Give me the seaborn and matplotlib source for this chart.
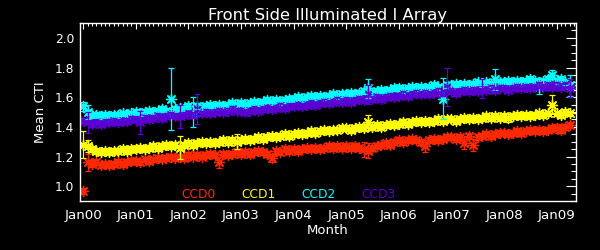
import matplotlib
matplotlib.use("Agg")
import matplotlib.pyplot as plt
import numpy as np
import pandas as pd
import seaborn as sns
from matplotlib.ticker import MultipleLocator

# ---------------- data (monthly, Jan 2000 = month 0) ----------------
months = list(range(112))

ccd0 = [0.97, 1.16, 1.15, 1.16, 1.14, 1.15, 1.14, 1.15, 1.16, 1.15, 1.16, 1.17,
        1.17, 1.16, 1.18, 1.17, 1.18, 1.19, 1.18, 1.19, 1.20, 1.19, 1.20, 1.19,
        1.21, 1.20, 1.21, 1.20, 1.21, 1.22, 1.21, 1.16, 1.22, 1.21, 1.22, 1.23,
        1.22, 1.23, 1.22, 1.23, 1.24, 1.23, 1.22, 1.19, 1.24, 1.23, 1.25, 1.24,
        1.25, 1.24, 1.25, 1.26, 1.25, 1.26, 1.25, 1.26, 1.27, 1.26, 1.27, 1.26,
        1.27, 1.26, 1.27, 1.26, 1.25, 1.24, 1.26, 1.27, 1.28, 1.29, 1.28, 1.30,
        1.31, 1.30, 1.31, 1.32, 1.31, 1.30, 1.27, 1.31, 1.32, 1.31, 1.32, 1.33,
        1.33, 1.32, 1.33, 1.29, 1.34, 1.28, 1.33, 1.34, 1.35, 1.34, 1.35, 1.36,
        1.36, 1.35, 1.36, 1.37, 1.36, 1.37, 1.38, 1.37, 1.38, 1.37, 1.38, 1.39,
        1.39, 1.38, 1.40, 1.41]

ccd1 = [1.28, 1.27, 1.25, 1.24, 1.23, 1.24, 1.23, 1.24, 1.24, 1.25, 1.24, 1.25,
        1.25, 1.26, 1.25, 1.26, 1.27, 1.26, 1.27, 1.28, 1.27, 1.28, 1.26, 1.28,
        1.29, 1.28, 1.29, 1.30, 1.29, 1.30, 1.29, 1.30, 1.31, 1.30, 1.31, 1.30,
        1.31, 1.32, 1.31, 1.32, 1.33, 1.32, 1.33, 1.34, 1.33, 1.34, 1.35, 1.34,
        1.35, 1.36, 1.35, 1.36, 1.37, 1.36, 1.37, 1.38, 1.37, 1.38, 1.38, 1.39,
        1.39, 1.38, 1.39, 1.40, 1.39, 1.43, 1.40, 1.41, 1.40, 1.41, 1.42, 1.41,
        1.42, 1.43, 1.42, 1.43, 1.44, 1.43, 1.44, 1.43, 1.44, 1.45, 1.44, 1.45,
        1.45, 1.44, 1.45, 1.46, 1.45, 1.46, 1.45, 1.46, 1.47, 1.46, 1.47, 1.46,
        1.47, 1.46, 1.47, 1.48, 1.47, 1.48, 1.47, 1.48, 1.49, 1.48, 1.49, 1.55,
        1.49, 1.48, 1.50, 1.49]

ccd2 = [1.54, 1.50, 1.48, 1.48, 1.47, 1.48, 1.47, 1.48, 1.48, 1.49, 1.48, 1.49,
        1.50, 1.49, 1.50, 1.51, 1.50, 1.51, 1.52, 1.51, 1.59, 1.52, 1.53, 1.52,
        1.54, 1.50, 1.54, 1.53, 1.54, 1.55, 1.54, 1.55, 1.54, 1.55, 1.56, 1.55,
        1.56, 1.55, 1.56, 1.57, 1.56, 1.57, 1.58, 1.57, 1.58, 1.57, 1.58, 1.59,
        1.59, 1.60, 1.59, 1.60, 1.61, 1.60, 1.61, 1.60, 1.61, 1.62, 1.61, 1.62,
        1.62, 1.63, 1.62, 1.63, 1.64, 1.66, 1.63, 1.64, 1.65, 1.64, 1.65, 1.66,
        1.66, 1.65, 1.66, 1.67, 1.66, 1.67, 1.66, 1.67, 1.68, 1.67, 1.59, 1.68,
        1.68, 1.69, 1.68, 1.69, 1.68, 1.69, 1.70, 1.69, 1.70, 1.69, 1.72, 1.70,
        1.70, 1.71, 1.70, 1.71, 1.70, 1.71, 1.72, 1.71, 1.67, 1.71, 1.72, 1.75,
        1.71, 1.72, 1.70, 1.68]

ccd3 = [1.44, 1.43, 1.42, 1.43, 1.42, 1.43, 1.43, 1.44, 1.43, 1.44, 1.44, 1.45,
        1.45, 1.43, 1.46, 1.45, 1.46, 1.47, 1.46, 1.47, 1.48, 1.47, 1.47, 1.48,
        1.49, 1.48, 1.52, 1.49, 1.50, 1.49, 1.50, 1.51, 1.50, 1.51, 1.52, 1.51,
        1.51, 1.50, 1.51, 1.52, 1.51, 1.52, 1.53, 1.52, 1.53, 1.54, 1.53, 1.54,
        1.54, 1.55, 1.54, 1.55, 1.56, 1.55, 1.56, 1.57, 1.56, 1.57, 1.58, 1.57,
        1.58, 1.57, 1.58, 1.59, 1.58, 1.62, 1.59, 1.60, 1.59, 1.60, 1.61, 1.60,
        1.61, 1.62, 1.61, 1.62, 1.63, 1.62, 1.63, 1.62, 1.63, 1.64, 1.63, 1.67,
        1.64, 1.63, 1.64, 1.65, 1.64, 1.65, 1.64, 1.66, 1.65, 1.66, 1.65, 1.66,
        1.66, 1.65, 1.66, 1.67, 1.66, 1.67, 1.66, 1.67, 1.68, 1.67, 1.68, 1.67,
        1.68, 1.67, 1.68, 1.66]

# error bars: small default, larger at a few months
base_err = 0.02
ccd0_bar_months = [1, 31, 43, 64, 65, 78, 87, 89, 108]
ccd0_bar_errs = [0.055, 0.04, 0.03, 0.05, 0.05, 0.04, 0.04, 0.04, 0.03]
ccd1_bar_months = [0, 1, 22, 35, 65, 97, 107]
ccd1_bar_errs = [0.09, 0.04, 0.08, 0.05, 0.05, 0.025, 0.065]
ccd2_bar_months = [0, 1, 20, 25, 65, 82, 94, 104, 107, 111]
ccd2_bar_errs = [0.03, 0.05, 0.21, 0.10, 0.065, 0.14, 0.07, 0.05, 0.03, 0.07]
ccd3_bar_months = [1, 13, 22, 26, 65, 83, 91, 111]
ccd3_bar_errs = [0.07, 0.08, 0.08, 0.10, 0.065, 0.13, 0.065, 0.06]

series_names = ["CCD0", "CCD1", "CCD2", "CCD3"]
series_values = [ccd0, ccd1, ccd2, ccd3]
bar_months = [ccd0_bar_months, ccd1_bar_months, ccd2_bar_months, ccd3_bar_months]
bar_errs = [ccd0_bar_errs, ccd1_bar_errs, ccd2_bar_errs, ccd3_bar_errs]
colors = ["#ff2800", "#ffff00", "#00ffff", "#5a00d2"]

tick_years = list(range(2000, 2010))
tick_labels = ["Jan00", "Jan01", "Jan02", "Jan03", "Jan04",
               "Jan05", "Jan06", "Jan07", "Jan08", "Jan09"]
y_ticks = [1.0, 1.2, 1.4, 1.6, 1.8, 2.0]

# ---------------- build table ----------------
rows = []
for name, vals in zip(series_names, series_values):
    for m, v in zip(months, vals):
        rows.append({"ccd": name, "year": 2000 + m / 12.0, "cti": v})
df = pd.DataFrame(rows)

# ---------------- plot ----------------
sns.set_style("dark")
plt.rcParams["font.family"] = ["DejaVu Sans"]

fig = plt.figure(figsize=(6, 2.5), dpi=100, facecolor="black")
ax = fig.add_axes([80 / 600, 49 / 250, 496 / 600, 178 / 250])
ax.set_facecolor("black")

star = (8, 2, 0)
for name, vals, bm, be, col in zip(series_names, series_values, bar_months, bar_errs, colors):
    err = [base_err] * len(vals)
    for m, e in zip(bm, be):
        err[m] = e
    sub = df[df["ccd"] == name]
    ax.errorbar(sub["year"], sub["cti"], yerr=err, fmt="none", ecolor=col,
                elinewidth=0.9, capsize=2.4, capthick=0.9)
    sns.scatterplot(data=sub, x="year", y="cti", color=col, marker=star,
                    s=52, linewidth=1.0, edgecolor=col, legend=False, ax=ax)

ax.set_xlim(1999.94, 2009.37)
ax.set_ylim(0.9, 2.1)
ax.set_xticks(tick_years)
ax.set_xticklabels(tick_labels)
ax.xaxis.set_minor_locator(MultipleLocator(1 / 12))
ax.set_yticks(y_ticks)
ax.set_yticklabels([f"{t:.1f}" for t in y_ticks])
ax.yaxis.set_minor_locator(MultipleLocator(0.05))

ax.grid(False)
for s in ax.spines.values():
    s.set_color("white")
    s.set_linewidth(1.0)
    s.set_visible(True)

ax.tick_params(axis="both", which="both", direction="in", colors="white",
               top=True, right=True, width=0.8)
ax.tick_params(axis="x", which="major", length=4, pad=6, labelsize=9.6)
ax.tick_params(axis="x", which="minor", length=2.2)
ax.tick_params(axis="y", which="major", length=7, pad=4, labelsize=8.8)
ax.tick_params(axis="y", which="minor", length=3.5)

ax.set_xlabel("Month", color="white", fontsize=9.5, labelpad=1)
ax.set_ylabel("Mean CTI", color="white", fontsize=9.5, labelpad=6)
ax.set_title("Front Side Illuminated I Array", color="white", fontsize=11.8, pad=2)

legend_x = [0.204, 0.325, 0.446, 0.567]
for name, col, lx in zip(series_names, colors, legend_x):
    ax.text(lx, 0.035, name, color=col, fontsize=8.8, transform=ax.transAxes,
            ha="left", va="center")

fig.savefig("out.png", dpi=100, facecolor="black")
